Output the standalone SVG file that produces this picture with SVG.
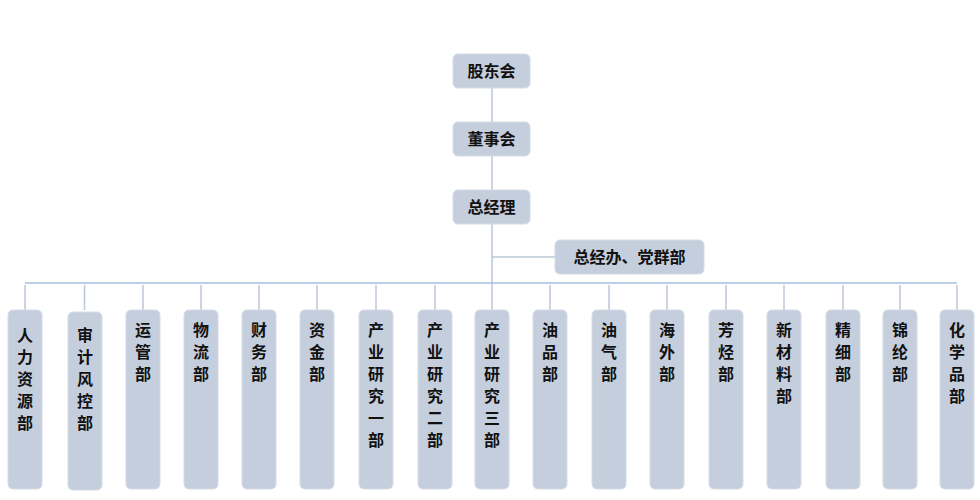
<svg xmlns="http://www.w3.org/2000/svg" width="980" height="500" viewBox="0 0 980 500">
<style>
.b{fill:#c5cedc;stroke:#d5dce6;stroke-width:1}
.t{font-family:"Noto Sans CJK SC","Noto Sans",sans-serif;font-size:16px;font-weight:bold;fill:#111;text-anchor:middle}
.l{stroke:#bcc7d6;stroke-width:1.5;fill:none}
</style>
<rect width="980" height="500" fill="#fff"/>
<g id="connectors">
<path class="l" d="M492 88V122M492 156V190M492 224V310M492 257H555"/>
<path d="M25 283H957" stroke="#a9bde0" stroke-width="1.5"/>
<path class="l" d="M25 285V310M84.5 285V310M143 285V310M201 285V310M259 285V310M317 285V310M376 285V310M435 285V310M550 285V310M609 285V310M667 285V310M726 285V310M784 285V310M843 285V310M900 285V310M957 285V310"/>
</g>
<g id="n-gdh"><rect class="b" x="453" y="54" width="77" height="34" rx="5"/><text class="t" x="491.5" y="77">股东会</text></g>
<g id="n-dsh"><rect class="b" x="453" y="122" width="77" height="34" rx="5"/><text class="t" x="491.5" y="145">董事会</text></g>
<g id="n-zjl"><rect class="b" x="453" y="190" width="77" height="34" rx="5"/><text class="t" x="491.5" y="213">总经理</text></g>
<g id="n-zjb"><rect class="b" x="555" y="240" width="149" height="34" rx="5"/><text class="t" x="629.5" y="263">总经办、党群部</text></g>
<g id="n1"><rect class="b" x="8" y="310" width="34" height="179" rx="5"/><text class="t" x="25" y="341">人<tspan x="25" dy="22">力</tspan><tspan x="25" dy="22">资</tspan><tspan x="25" dy="22">源</tspan><tspan x="25" dy="22">部</tspan></text></g>
<g id="n2"><rect class="b" x="68" y="312" width="34" height="178" rx="5"/><text class="t" x="85" y="341">审<tspan x="85" dy="22">计</tspan><tspan x="85" dy="22">风</tspan><tspan x="85" dy="22">控</tspan><tspan x="85" dy="22">部</tspan></text></g>
<g id="n3"><rect class="b" x="126" y="310" width="34" height="179" rx="5"/><text class="t" x="143" y="336">运<tspan x="143" dy="22">管</tspan><tspan x="143" dy="22">部</tspan></text></g>
<g id="n4"><rect class="b" x="184" y="310" width="34" height="179" rx="5"/><text class="t" x="201" y="336">物<tspan x="201" dy="22">流</tspan><tspan x="201" dy="22">部</tspan></text></g>
<g id="n5"><rect class="b" x="242" y="310" width="34" height="179" rx="5"/><text class="t" x="259" y="336">财<tspan x="259" dy="22">务</tspan><tspan x="259" dy="22">部</tspan></text></g>
<g id="n6"><rect class="b" x="300" y="310" width="34" height="179" rx="5"/><text class="t" x="317" y="336">资<tspan x="317" dy="22">金</tspan><tspan x="317" dy="22">部</tspan></text></g>
<g id="n7"><rect class="b" x="359" y="310" width="34" height="179" rx="5"/><text class="t" x="376" y="336">产<tspan x="376" dy="22">业</tspan><tspan x="376" dy="22">研</tspan><tspan x="376" dy="22">究</tspan><tspan x="376" dy="22">一</tspan><tspan x="376" dy="22">部</tspan></text></g>
<g id="n8"><rect class="b" x="418" y="310" width="34" height="179" rx="5"/><text class="t" x="435" y="336">产<tspan x="435" dy="22">业</tspan><tspan x="435" dy="22">研</tspan><tspan x="435" dy="22">究</tspan><tspan x="435" dy="22">二</tspan><tspan x="435" dy="22">部</tspan></text></g>
<g id="n9"><rect class="b" x="475" y="310" width="34" height="179" rx="5"/><text class="t" x="492" y="336">产<tspan x="492" dy="22">业</tspan><tspan x="492" dy="22">研</tspan><tspan x="492" dy="22">究</tspan><tspan x="492" dy="22">三</tspan><tspan x="492" dy="22">部</tspan></text></g>
<g id="n10"><rect class="b" x="533" y="310" width="34" height="179" rx="5"/><text class="t" x="550" y="336">油<tspan x="550" dy="22">品</tspan><tspan x="550" dy="22">部</tspan></text></g>
<g id="n11"><rect class="b" x="592" y="310" width="34" height="179" rx="5"/><text class="t" x="609" y="336">油<tspan x="609" dy="22">气</tspan><tspan x="609" dy="22">部</tspan></text></g>
<g id="n12"><rect class="b" x="650" y="310" width="34" height="179" rx="5"/><text class="t" x="667" y="336">海<tspan x="667" dy="22">外</tspan><tspan x="667" dy="22">部</tspan></text></g>
<g id="n13"><rect class="b" x="709" y="310" width="34" height="179" rx="5"/><text class="t" x="726" y="336">芳<tspan x="726" dy="22">烃</tspan><tspan x="726" dy="22">部</tspan></text></g>
<g id="n14"><rect class="b" x="767" y="310" width="34" height="179" rx="5"/><text class="t" x="784" y="336">新<tspan x="784" dy="22">材</tspan><tspan x="784" dy="22">料</tspan><tspan x="784" dy="22">部</tspan></text></g>
<g id="n15"><rect class="b" x="826" y="310" width="34" height="179" rx="5"/><text class="t" x="843" y="336">精<tspan x="843" dy="22">细</tspan><tspan x="843" dy="22">部</tspan></text></g>
<g id="n16"><rect class="b" x="883" y="310" width="34" height="179" rx="5"/><text class="t" x="900" y="336">锦<tspan x="900" dy="22">纶</tspan><tspan x="900" dy="22">部</tspan></text></g>
<g id="n17"><rect class="b" x="940" y="310" width="34" height="179" rx="5"/><text class="t" x="957" y="336">化<tspan x="957" dy="22">学</tspan><tspan x="957" dy="22">品</tspan><tspan x="957" dy="22">部</tspan></text></g>
</svg>
